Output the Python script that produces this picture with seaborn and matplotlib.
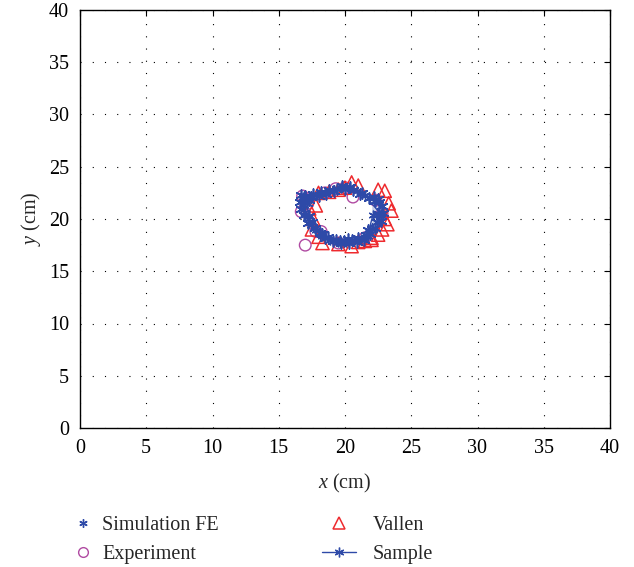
import numpy as np
import pandas as pd
import matplotlib
matplotlib.use('Agg')
import matplotlib.pyplot as plt
import seaborn as sns
from matplotlib.lines import Line2D

sns.set_style('white')
plt.rcParams['font.family'] = ['Liberation Serif', 'DejaVu Serif']
plt.rcParams['mathtext.fontset'] = 'custom'
plt.rcParams['mathtext.it'] = 'Liberation Serif:italic'
plt.rcParams['mathtext.rm'] = 'Liberation Serif'

blue = '#2E4AA8'
red = '#EE2A2E'
magenta = '#B04AA2'

# sample path (closed)
sample_x = [16.8, 16.9, 17.0, 17.2, 17.4, 17.8, 18.3, 18.9, 19.5, 20.1, 20.7, 21.2, 21.7, 22.1,
            22.5, 22.7, 22.7, 22.5, 22.1, 21.5, 20.9, 20.3, 19.7, 19.1, 18.5, 17.9, 17.3, 16.8]
sample_y = [21.9, 21.3, 20.7, 20.0, 19.4, 18.9, 18.4, 18.0, 17.8, 17.8, 17.9, 18.1, 18.4, 18.8,
            19.4, 20.1, 20.8, 21.4, 21.9, 22.3, 22.7, 23.0, 23.0, 22.8, 22.6, 22.3, 22.0, 21.9]

# simulation FE points
sim_x = [16.6, 16.9, 16.7, 17.1, 16.9, 17.3, 17.5, 17.7, 18.1, 18.5, 18.7, 19.1, 19.3, 19.7,
         19.9, 20.3, 20.5, 20.9, 21.0, 21.4, 21.6, 21.9, 22.0, 22.3, 22.4, 22.7, 22.6, 22.9,
         22.8, 22.6, 22.3, 22.2, 21.8, 21.3, 21.1, 20.6, 20.4, 20.0, 19.8, 19.4, 19.2, 18.8,
         18.6, 18.2, 18.0, 17.6, 17.4, 17.0, 16.7, 17.2, 18.3, 20.2, 21.7, 22.5, 19.6, 17.3]
sim_y = [21.6, 22.1, 21.0, 21.5, 20.4, 20.3, 19.7, 19.1, 18.7, 18.2, 18.3, 17.9, 18.0, 17.7,
         17.9, 17.7, 18.0, 17.8, 18.2, 18.0, 18.5, 18.6, 19.0, 19.1, 19.7, 19.8, 20.5, 20.6,
         21.2, 21.6, 21.7, 22.1, 22.0, 22.5, 22.4, 22.8, 23.1, 22.9, 23.2, 22.9, 22.7, 22.8,
         22.4, 22.6, 22.2, 22.4, 22.1, 22.2, 22.3, 19.6, 18.6, 18.1, 18.9, 21.9, 17.9, 21.8]

# Vallen points
vallen_x = [20.5, 21.0, 22.5, 23.0, 23.3, 23.5, 23.0, 23.2, 22.8, 22.5, 22.0, 21.5, 20.5,
            19.5, 18.3, 18.0, 17.5, 17.6, 17.8, 17.3, 18.0, 18.8, 19.5, 20.0, 22.0, 21.0]
vallen_y = [23.5, 23.2, 22.8, 22.7, 21.5, 20.8, 20.0, 19.5, 19.0, 18.5, 18.2, 17.9, 17.4,
            17.6, 17.7, 18.3, 19.0, 20.0, 21.3, 21.0, 22.5, 22.6, 22.8, 23.0, 18.0, 17.8]

# experiment points
exp_x = [16.8, 16.7, 17.0, 17.8, 18.2, 20.6, 19.5, 22.8, 17.2, 18.5, 19.3, 20.0, 21.5, 22.3]
exp_y = [22.2, 20.7, 17.5, 18.8, 18.8, 22.1, 17.7, 20.5, 21.5, 22.5, 22.9, 23.0, 18.2, 21.8]

sample = pd.DataFrame({'x': sample_x, 'y': sample_y})
sim = pd.DataFrame({'x': sim_x, 'y': sim_y})
vallen = pd.DataFrame({'x': vallen_x, 'y': vallen_y})
exp = pd.DataFrame({'x': exp_x, 'y': exp_y})

fig = plt.figure(figsize=(6.34, 5.67), dpi=100)
ax = fig.add_axes([80 / 634, 1 - 428 / 567, 530 / 634, 418 / 567])

sns.scatterplot(data=exp, x='x', y='y', ax=ax, marker='o', s=70, facecolors='none',
                edgecolor=magenta, linewidth=1.0, zorder=3)
sns.scatterplot(data=vallen, x='x', y='y', ax=ax, marker='^', s=90, facecolors='none',
                edgecolor=red, linewidth=1.1, zorder=4)
sns.lineplot(data=sample, x='x', y='y', ax=ax, sort=False, color=blue, lw=1.0,
             marker=(6, 2, 0), markersize=7, markeredgecolor=blue, markeredgewidth=1.0, zorder=5)
sns.scatterplot(data=sim, x='x', y='y', ax=ax, marker=(6, 2, 0), s=60, color=blue,
                edgecolor=blue, linewidth=1.2, zorder=6)

ax.set_xlim(0, 40)
ax.set_ylim(0, 40)
ax.set_xticks(range(0, 41, 5))
ax.set_yticks(range(0, 41, 5))
ax.grid(True, color='black', linestyle=(0, (1, 10)), linewidth=0.8)
ax.tick_params(direction='in', length=4, width=0.8, labelsize=14.5, top=True, right=True,
               colors='black', pad=8)
for s in ax.spines.values():
    s.set_color('black')
    s.set_linewidth(1.0)
ax.set_xlabel('$x$ (cm)', fontsize=14.5, labelpad=10)
ax.set_ylabel('$y$ (cm)', fontsize=14.5, labelpad=4)

h_sim = Line2D([], [], ls='none', marker=(6, 2, 0), color=blue, markersize=6, markeredgewidth=1.0)
h_exp = Line2D([], [], ls='none', marker='o', markerfacecolor='none', markeredgecolor=magenta,
               markersize=7, markeredgewidth=1.0)
h_val = Line2D([], [], ls='none', marker='^', markerfacecolor='none', markeredgecolor=red,
               markersize=8, markeredgewidth=1.1)
h_smp = Line2D([], [], color=blue, lw=1.0, marker=(6, 2, 0), markersize=7, markeredgewidth=1.0)

fig.legend([h_sim, h_exp], ['Simulation FE', 'Experiment'], loc='upper left',
           bbox_to_anchor=(74 / 634, 1 - 516 / 567), frameon=False, fontsize=14.5,
           handlelength=0.9, handletextpad=0.5, labelspacing=0.5, borderpad=0, borderaxespad=0)
fig.legend([h_val, h_smp], ['Vallen', 'Sample'], loc='upper left',
           bbox_to_anchor=(322 / 634, 1 - 516 / 567), frameon=False, fontsize=14.5,
           handlelength=1.7, handletextpad=0.8, labelspacing=0.5, borderpad=0, borderaxespad=0)

fig.savefig('out.png', dpi=100)
